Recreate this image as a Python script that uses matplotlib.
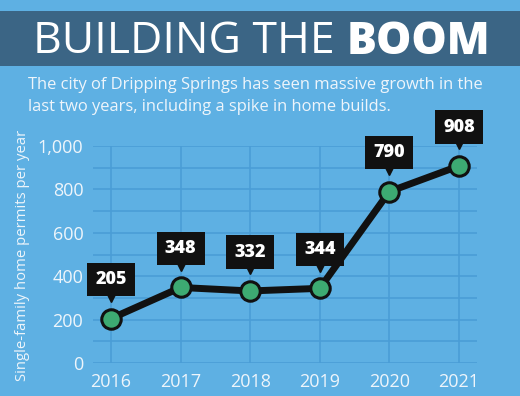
import matplotlib.pyplot as plt
import matplotlib.transforms as mtransforms
from matplotlib.patches import Rectangle

years = [2016, 2017, 2018, 2019, 2020, 2021]
permits = [205, 348, 332, 344, 790, 908]
y_ticks = [0, 200, 400, 600, 800, 1000]
y_tick_labels = ['0', '200', '400', '600', '800', '1,000']

bg = '#5EB0E3'
bar = '#3B6585'
grid = '#4A9DD6'
txt = '#EEF5FB'
green = '#3DAA72'

plt.rcParams['font.family'] = ['Open Sans', 'DejaVu Sans']

fig = plt.figure(figsize=(5.2, 3.96), dpi=100, facecolor=bg)
W, H = 520, 396

# Title bar
fig.patches.append(Rectangle((0, 1 - 66 / H), 1, 55 / H, transform=fig.transFigure,
                             facecolor=bar, edgecolor='none', zorder=0))
t1 = fig.text(33 / W, 1 - 42 / H, 'BUILDING THE ', color='white', fontsize=32,
              fontweight='normal', va='center', ha='left')
fig.canvas.draw()
bb = t1.get_window_extent()
fig.text(bb.x1 / W, 1 - 42 / H, 'BOOM', color='white', fontsize=32,
         fontweight='heavy', va='center', ha='left')

# Subtitle
fig.text(28 / W, 1 - 85 / H, 'The city of Dripping Springs has seen massive growth in the',
         color=txt, fontsize=11.9, va='center', ha='left')
fig.text(28 / W, 1 - 107 / H, 'last two years, including a spike in home builds.',
         color=txt, fontsize=11.9, va='center', ha='left')

# Plot area
ax = fig.add_axes([93 / W, 1 - 363 / H, (477 - 93) / W, (363 - 146) / H])
ax.set_facecolor(bg)
ax.set_xlim(2015.74, 2021.26)
ax.set_ylim(0, 1000)
ax.set_yticks(y_ticks)
ax.set_yticklabels(y_tick_labels)
ax.set_yticks(range(100, 1000, 200), minor=True)
ax.set_xticks(years)
ax.grid(True, which='both', color=grid, linewidth=1.2)
ax.tick_params(which='both', length=0)
ax.tick_params(axis='y', colors=txt, labelsize=13, pad=7)
ax.tick_params(axis='x', colors=txt, labelsize=13, pad=7)
for s in ax.spines.values():
    s.set_visible(False)
ax.set_axisbelow(True)
ax.set_ylabel('Single-family home permits per year', color=txt, fontsize=10.7)
ax.yaxis.set_label_coords(-0.164, 0.495)

ax.plot(years, permits, color='#111111', linewidth=5, zorder=3, solid_capstyle='round')
ax.plot(years, permits, 'o', markersize=14, markerfacecolor=green,
        markeredgecolor='#111111', markeredgewidth=2.2, zorder=4, clip_on=False)

# Value callouts: black box with a small pointer underneath
for x, v in zip(years, permits):
    ax.annotate(str(v), (x, v), xytext=(0, 28), textcoords='offset points',
                ha='center', va='center', color='white', fontsize=13,
                fontweight='heavy', zorder=5, annotation_clip=False,
                bbox=dict(boxstyle='square,pad=0.45', facecolor='#111111',
                          edgecolor='none'))
shift = ax.transData + mtransforms.ScaledTranslation(0, 15.5 / 72, fig.dpi_scale_trans)
ax.plot(years, permits, marker='v', markersize=7, color='#111111', linestyle='none',
        transform=shift, zorder=5, clip_on=False)

fig.savefig('out.png', dpi=100, facecolor=bg)
